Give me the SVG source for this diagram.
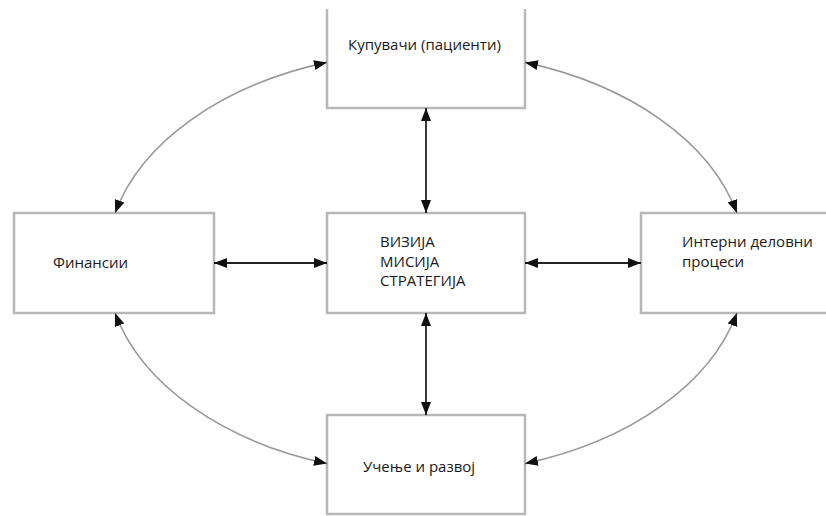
<svg xmlns="http://www.w3.org/2000/svg" width="826" height="516" viewBox="0 0 826 516">
  <defs>
    <marker id="arr" markerUnits="userSpaceOnUse" markerWidth="15" markerHeight="11" refX="13" refY="5" orient="auto-start-reverse">
      <path d="M0,0 L13,5 L0,10 z" fill="#111"/>
    </marker>
    <style>
      .box { fill: #fff; stroke: #b8b8b8; stroke-width: 2.5; }
      .lbl { font-family: "Open Sans", "Liberation Sans", sans-serif; font-size: 15px; fill: #1a1a1a; }
      .straight { fill: none; stroke: #222; stroke-width: 1.8; marker-start: url(#arr); marker-end: url(#arr); }
      .curve { fill: none; stroke: #999; stroke-width: 1.6; marker-start: url(#arr); marker-end: url(#arr); }
    </style>
  </defs>
  <rect width="826" height="516" fill="#fff"/>

  <g id="customers">
    <path class="box" d="M327,9 V108 H525 V9"/>
    <text class="lbl" x="348" y="50">Купувачи (пациенти)</text>
  </g>
  <g id="finance">
    <rect class="box" x="14" y="213" width="200" height="100"/>
    <text class="lbl" x="53" y="268">Финансии</text>
  </g>
  <g id="vision">
    <rect class="box" x="327" y="213" width="198" height="100"/>
    <text class="lbl" x="380" y="247">ВИЗИЈА</text>
    <text class="lbl" x="380" y="266.5">МИСИЈА</text>
    <text class="lbl" x="380" y="286">СТРАТЕГИЈА</text>
  </g>
  <g id="internal">
    <rect class="box" x="641" y="213" width="200" height="100"/>
    <text class="lbl" x="682" y="247">Интерни деловни</text>
    <text class="lbl" x="682" y="267">процеси</text>
  </g>
  <g id="learning">
    <rect class="box" x="327" y="415" width="198" height="99"/>
    <text class="lbl" x="363" y="472">Учење и развој</text>
  </g>

  <g id="connectors">
    <path class="straight" d="M426,108 V213"/>
    <path class="straight" d="M426,313 V415"/>
    <path class="straight" d="M214,263 H327"/>
    <path class="straight" d="M525,263 H641"/>
    <path class="curve" d="M327,62.4 A320,211 0 0,0 115.1,213"/>
    <path class="curve" d="M525,62.4 A320,211 0 0,1 736.9,213"/>
    <path class="curve" d="M115.1,313 A320,211 0 0,0 327,463.6"/>
    <path class="curve" d="M736.9,313 A320,211 0 0,1 525,463.6"/>
  </g>
</svg>
